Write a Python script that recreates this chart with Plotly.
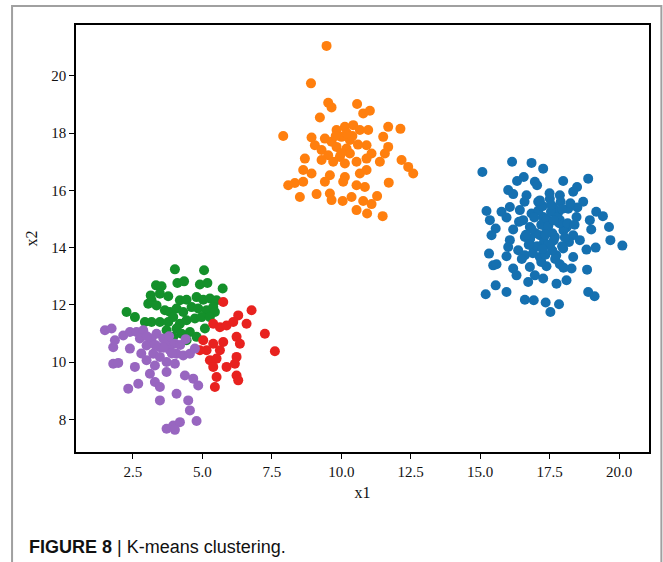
import plotly.graph_objects as go

# ---- data ----
blue_x = [15.08, 16.15, 16.85, 17.27, 16.33, 16.57, 16.97, 17.05, 17.99, 18.89, 18.49, 18.35, 16.01, 16.19,
          16.67, 17.09, 17.51, 17.87, 18.71, 15.23, 15.77, 16.07, 16.43, 16.85, 17.63, 18.17, 19.18, 19.42,
          15.35, 15.95, 16.55, 17.27, 17.87, 18.47, 18.95, 15.56, 16.19, 16.79, 17.39, 18.11, 19.00, 19.64,
          15.41, 16.07, 16.61, 17.15, 17.69, 18.35, 18.59, 19.69, 20.12, 16.01, 16.37, 16.91, 17.51, 17.99,
          18.83, 19.16, 15.32, 15.95, 16.61, 17.15, 17.74, 18.35, 15.47, 15.59, 16.19, 16.79, 17.39, 17.87,
          18.29, 18.85, 16.31, 16.73, 16.97, 17.27, 17.75, 18.11, 15.56, 15.20, 15.95, 18.89, 19.12, 16.61,
          16.93, 17.36, 17.84, 17.53,
          17.0, 17.2, 17.4, 17.6, 17.8, 17.3, 17.6, 17.1, 16.8, 18.0, 17.9, 17.5, 16.9, 18.2, 17.7, 17.2,
          16.6, 18.5, 16.4, 18.0,
          17.45, 17.65, 17.85, 17.25, 17.05, 16.85, 17.55, 17.95, 18.15, 17.35, 17.75, 16.95, 17.15, 18.05,
          17.45, 16.75, 17.65, 18.25, 17.35, 16.65, 17.95, 17.25, 16.5, 18.4, 17.55]
blue_y = [16.64, 17.00, 16.96, 16.76, 16.33, 16.47, 16.30, 16.18, 16.33, 16.41, 16.12, 15.95, 16.01, 15.87,
          15.83, 15.60, 15.71, 15.83, 15.60, 15.28, 15.25, 15.42, 15.31, 15.19, 15.42, 15.36, 15.25, 15.10,
          14.96, 15.05, 14.96, 15.07, 14.96, 15.07, 14.96, 14.67, 14.63, 14.72, 14.67, 14.70, 14.63, 14.72,
          14.43, 14.26, 14.37, 14.43, 14.37, 14.43, 14.26, 14.26, 14.07, 14.02, 13.91, 14.02, 14.08, 13.97,
          13.93, 14.00, 13.79, 13.70, 13.73, 13.67, 13.73, 13.67, 13.38, 13.42, 13.27, 13.32, 13.35, 13.42,
          13.27, 13.23, 13.03, 12.80, 13.03, 12.92, 12.74, 12.86, 12.68, 12.37, 12.45, 12.45, 12.30, 12.18,
          12.16, 12.08, 12.02, 11.75,
          14.5, 14.8, 15.0, 14.5, 15.2, 14.2, 13.9, 15.3, 14.3, 14.6, 15.6, 15.9, 13.8, 14.2, 13.6, 13.5,
          15.6, 15.4, 14.9, 13.3,
          14.75, 14.25, 14.85, 15.45, 14.05, 14.65, 15.25, 15.35, 14.85, 13.75, 15.05, 15.05, 15.65, 14.35,
          14.1, 14.1, 14.95, 15.55, 14.45, 14.45, 14.05, 13.95, 13.6, 14.8, 15.5]

orange_x = [9.47, 8.91, 9.53, 9.65, 10.57, 9.23, 10.79, 11.03, 7.91, 8.93, 9.83, 10.13, 10.43, 10.67, 10.97,
            11.69, 12.13, 9.41, 9.65, 10.01, 10.31, 11.51, 9.05, 9.29, 9.83, 10.19, 10.91, 11.69, 9.53, 9.95,
            10.31, 11.09, 11.57, 8.69, 9.29, 9.71, 10.13, 10.55, 10.91, 11.39, 12.17, 12.41, 12.59, 8.63, 8.93,
            9.59, 10.13, 10.67, 10.91, 8.09, 8.33, 8.63, 9.41, 10.07, 10.55, 10.85, 11.71, 8.51, 9.11, 9.59,
            9.65, 10.05, 10.37, 10.79, 11.09, 11.29, 10.55, 10.93, 11.49,
            10.0, 10.4, 10.6, 9.8, 10.2]
orange_y = [21.05, 19.74, 19.06, 18.90, 19.02, 18.55, 18.69, 18.78, 17.90, 17.85, 18.11, 18.22, 18.28, 18.11,
            18.11, 18.22, 18.15, 17.81, 17.70, 17.87, 17.76, 17.87, 17.58, 17.41, 17.52, 17.46, 17.58, 17.52,
            17.23, 17.17, 17.29, 17.29, 17.29, 17.11, 17.06, 17.00, 16.94, 17.00, 17.11, 17.00, 17.06, 16.82,
            16.59, 16.71, 16.59, 16.53, 16.47, 16.59, 16.71, 16.18, 16.26, 16.30, 16.30, 16.30, 16.18, 16.12,
            16.27, 15.77, 15.87, 15.89, 15.66, 15.63, 15.77, 15.63, 15.52, 15.80, 15.31, 15.19, 15.10,
            17.3, 17.9, 17.6, 17.9, 18.0]

green_x = [4.01, 5.06, 3.33, 3.53, 4.10, 4.34, 4.91, 5.18, 5.73, 3.14, 3.47, 3.77, 4.19, 4.43, 4.79, 5.03,
           5.27, 5.51, 2.27, 2.57, 3.05, 3.17, 3.35, 3.65, 3.83, 4.07, 4.31, 4.61, 4.85, 5.15, 5.39, 5.45,
           2.93, 3.17, 3.47, 3.77, 3.95, 4.19, 4.43, 4.73, 4.97, 5.27, 3.71, 4.07, 4.25, 4.55, 5.09, 4.43,
           4.79, 3.95]
green_y = [13.24, 13.21, 12.68, 12.65, 12.76, 12.82, 12.71, 12.76, 12.57, 12.33, 12.39, 12.30, 12.16, 12.18,
           12.27, 12.18, 12.22, 12.16, 11.75, 11.57, 12.04, 12.16, 11.98, 11.81, 11.75, 11.87, 11.75, 11.92,
           11.87, 11.81, 11.92, 11.75, 11.40, 11.40, 11.40, 11.40, 11.57, 11.34, 11.46, 11.52, 11.57, 11.57,
           11.11, 11.17, 10.99, 11.05, 11.17, 10.76, 10.88, 10.88]

red_x = [5.75, 6.77, 6.29, 6.59, 5.39, 5.63, 5.87, 6.11, 7.25, 7.61, 5.03, 5.39, 5.75, 6.23, 6.35, 5.15,
         5.63, 6.23, 5.27, 5.51, 5.87, 6.17, 5.39, 5.51, 6.23, 6.29, 5.45, 4.91]
red_y = [12.10, 11.81, 11.63, 11.34, 11.34, 11.22, 11.28, 11.40, 10.99, 10.38, 10.76, 10.64, 10.70, 10.88,
         10.64, 10.41, 10.41, 10.18, 10.06, 10.12, 9.83, 9.94, 9.83, 9.48, 9.53, 9.36, 9.13, 10.41]

purple_x = [1.49, 1.73, 2.15, 1.79, 1.85, 2.39, 2.63, 2.87, 2.75, 2.39, 2.99, 3.17, 3.35, 3.59, 3.47, 3.77,
            4.01, 3.83, 4.07, 4.31, 4.55, 4.73, 3.23, 3.47, 3.71, 4.01, 2.99, 3.29, 1.79, 1.97, 2.57, 3.11,
            3.71, 4.37, 4.67, 4.85, 3.29, 3.47, 2.69, 2.33, 4.07, 3.47, 4.49, 4.55, 4.79, 3.71, 3.95, 4.19,
            4.01, 3.6, 3.9, 4.2, 3.3, 4.4, 3.0, 2.8, 3.8]
purple_y = [11.11, 11.17, 10.93, 10.52, 10.76, 11.05, 11.05, 11.11, 10.82, 10.47, 10.58, 10.82, 10.99, 10.82,
            10.52, 10.70, 10.64, 10.41, 10.29, 10.23, 10.29, 10.47, 10.29, 10.18, 10.00, 9.94, 10.06, 9.88,
            9.94, 9.97, 9.83, 9.59, 9.65, 9.53, 9.42, 9.18, 9.30, 9.13, 9.24, 9.07, 8.89, 8.66, 8.66, 8.31,
            7.94, 7.67, 7.78, 7.90, 7.63, 10.5, 10.3, 10.6, 10.6, 10.8, 10.9, 10.3, 10.9]

x_ticks = [2.5, 5.0, 7.5, 10.0, 12.5, 15.0, 17.5, 20.0]
y_ticks = [8, 10, 12, 14, 16, 18, 20]

clusters = [
    ("blue", blue_x, blue_y, "#1570b0"),
    ("orange", orange_x, orange_y, "#ff7f0e"),
    ("green", green_x, green_y, "#14902a"),
    ("red", red_x, red_y, "#e8221f"),
    ("purple", purple_x, purple_y, "#9866c0"),
]

fig = go.Figure()
for name, xs, ys, col in clusters:
    fig.add_trace(go.Scatter(x=xs, y=ys, mode="markers", name=name,
                             marker=dict(size=10, color=col, line=dict(width=0))))

tick_font = dict(family="Liberation Serif, Times New Roman, serif", size=15, color="#111")
fig.update_layout(
    width=663, height=562,
    margin=dict(l=76, r=14, t=25, b=110),
    paper_bgcolor="white", plot_bgcolor="white",
    showlegend=False,
    xaxis=dict(range=[0.449, 21.08], tickvals=x_ticks, ticktext=[f"{v:.1f}" for v in x_ticks],
               showgrid=False, zeroline=False, showline=True, linecolor="black", linewidth=1.5,
               mirror=True, ticks="outside", ticklen=5, tickwidth=1, tickcolor="black",
               tickfont=tick_font,
               title=dict(text="x1", font=dict(family="Liberation Serif, serif", size=16, color="#111"),
                          standoff=8)),
    yaxis=dict(range=[6.856, 21.78], tickvals=y_ticks, ticktext=[str(v) for v in y_ticks],
               showgrid=False, zeroline=False, showline=True, linecolor="black", linewidth=1.5,
               mirror=True, ticks="outside", ticklen=5, tickwidth=1, tickcolor="black",
               tickfont=tick_font,
               title=dict(text="x2", font=dict(family="Liberation Serif, serif", size=16, color="#111"),
                          standoff=10)),
    shapes=[dict(type="rect", xref="paper", yref="paper", x0=-0.1116, x1=1.0216, y0=-0.35, y1=1.0445,
                 line=dict(color="#a0a0a0", width=2), fillcolor="rgba(0,0,0,0)", layer="below")],
    annotations=[dict(text="<b>FIGURE 8</b> | K-means clustering.", xref="paper", yref="paper",
                      x=-0.0855, y=-0.2225, xanchor="left", yanchor="middle", showarrow=False,
                      font=dict(family="Liberation Sans, Arial, sans-serif", size=18, color="#111"))],
)

fig.write_html("out.html", config={"displayModeBar": False},
               post_script="document.body.style.margin='0px';document.body.style.overflow='hidden';")
